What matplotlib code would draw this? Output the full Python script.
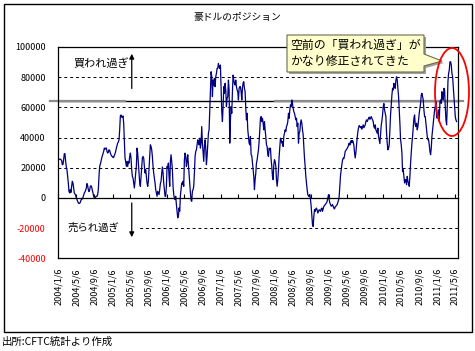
import matplotlib
matplotlib.use('Agg')
import matplotlib.pyplot as plt
import matplotlib.dates as mdates
import matplotlib.transforms as mtransforms
from matplotlib.patches import Rectangle, Ellipse, Polygon
from matplotlib.lines import Line2D
import pandas as pd

plt.rcParams['font.family'] = ['Noto Sans CJK JP', 'DejaVu Sans']

title = '豪ドルのポジション'
source = '出所:CFTC統計より作成'
callout_lines = ['空前の「買われ過ぎ」が', 'かなり修正されてきた']
label_buy = '買われ過ぎ'
label_sell = '売られ過ぎ'

x_labels = ['2004/1/6', '2004/5/6', '2004/9/6', '2005/1/6', '2005/5/6', '2005/9/6',
            '2006/1/6', '2006/5/6', '2006/9/6', '2007/1/6', '2007/5/6', '2007/9/6',
            '2008/1/6', '2008/5/6', '2008/9/6', '2009/1/6', '2009/5/6', '2009/9/6',
            '2010/1/6', '2010/5/6', '2010/9/6', '2011/1/6', '2011/5/6']
y_ticks = [-40000, -20000, 0, 20000, 40000, 60000, 80000, 100000]
ref_level = 64000

start, end = '2004-01-06', '2011-05-17'
# net position (contracts)
positions = [
    25300, 25500, 25700, 25700, 25300, 24900, 22000, 22200, 25300, 29300,
    29300, 24200, 20500, 18700, 14300, 9900, 4400, 3300, 5500, 3700,
    7700, 11000, 9900, 6600, 3300, 2600, 1800, 0, -1100, -2200,
    -3300, -3700, -3500, -2900, -1500, -900, -700, 400, 1800, 3300,
    4000, 5100, 6600, 9500, 8100, 5500, 4200, 5100, 7700, 8100,
    7300, 5100, 3300, 1100, 200, 0, 700, 1100, 1100, 2200,
    5500, 14300, 20900, 22400, 24200, 26400, 27900, 29300, 30800, 33000,
    32300, 33000, 33000, 30800, 29700, 30400, 31900, 31500, 29700, 28600,
    27700, 27500, 26800, 26800, 28200, 29300, 30800, 33000, 34800, 36300,
    37000, 38500, 45100, 54300, 55000, 53500, 53500, 54300, 49500, 38500,
    26400, 24200, 20900, 24200, 20900, 24200, 23100, 27500, 29700, 26400,
    18700, 14300, 13200, 9900, 6600, 11000, 16500, 20900, 33000, 29700,
    23100, 16500, 9900, 7700, 14300, 20900, 26400, 27500, 26400, 20900,
    16500, 18700, 14300, 9900, 7700, 11000, 19800, 27500, 35200, 34100,
    31900, 27500, 20900, 16500, 13200, 9900, 5500, 3300, 1100, 4400,
    3300, 2200, 5500, 9500, 11000, 16500, 20500, 16500, 9900, 5500,
    1100, 1100, 7700, 20900, 19800, 23100, 14300, 7700, 24200, 28600,
    24200, 18700, 7700, 2200, 0, -1100, 1100, -4400, -8800, -13200,
    -12100, -6600, -8800, 1500, 5500, 9900, 8800, 11000, 7700, 25300,
    29700, 27500, 20900, 24200, 28600, 22000, 16500, 9900, 3300, -1500,
    -2200, 4400, 5500, 7700, 16500, 27500, 30800, 31900, 35200, 38500,
    37400, 35200, 39600, 33000, 36300, 47300, 36300, 29700, 24200, 34100,
    38500, 33000, 22000, 27500, 35200, 42900, 45100, 58300, 72600, 83600,
    80300, 67100, 78100, 74800, 79200, 73700, 80300, 82500, 85800, 85800,
    89100, 86900, 85800, 88000, 71500, 57200, 50600, 60500, 73700, 69300,
    75900, 71500, 60500, 66000, 67100, 78100, 71500, 36300, 51700, 60500,
    56100, 70400, 81400, 78100, 75900, 74800, 78100, 73700, 71500, 70400,
    64900, 72600, 73700,
    73700, 70400, 64900, 72600, 76300, 77000, 72600, 70400, 59400, 51700,
    56100, 45100, 40700, 36300, 35200, 40700, 28600, 27900, 23100, 18700,
    14300, 5500, 12100, 16500, 23100, 25300, 28600, 31900, 37400, 45100,
    52800, 53900, 50600, 52800, 49500, 45100, 50600, 45100, 40700, 35200,
    34100, 28600, 27500, 33000, 31900, 33000, 25300, 20900, 14300, 12100,
    22000, 25300, 24200, 20900, 12100, 7700, 12100, 18700, 27500, 34100,
    39600, 38500, 36300, 37400, 34100, 40700, 42900, 45100, 44000, 47300,
    48400, 50600, 56100, 52800, 58300, 61600, 60500, 64900, 62700, 59400,
    57200, 56100, 53900, 51700, 52800, 47300, 49500, 36300, 42900, 44000,
    49500, 51700, 49500, 45100, 41800, 34100, 26400, 20900, 14300, 9900,
    5500, 2200, 1100, 1100, 2200, -1100, -5500, -12200, -17800, -18900,
    -12200, -7800, -8900, -7300, -6700, -8200, -10000, -8900, -7800, -8400,
    -8900, -7300, -6700, -8900, -7300, -5500, -5100, -4400, -3800, -3300,
    -2200, 0, 2200, -1100, -3300, -4400, -5500, -5100, -4400, -5500,
    -6700, -7300, -5900, -5500, -4900, -4400, -2900, -1500, 1000, 8000,
    15000, 18700, 22000, 25000, 26400, 26000, 28000, 30800, 31500, 32000,
    33000, 33500, 35200, 36300, 35000, 37000, 38000, 36500, 38000, 37000,
    35000, 30000, 26500, 30000, 35000, 40000, 43800, 46500, 48000, 47300,
    46500, 47300, 45500, 46900, 48400, 46500, 47500, 48400, 50600, 51700,
    50600, 51700, 52800, 53500, 52100, 52800, 53900, 52800, 51700, 50600,
    47300, 46200, 48400, 45100, 44000, 42900, 46200, 40700, 38500, 36000,
    42000, 48000, 51000, 55000, 60500, 62500, 58300, 56100, 53900, 42900,
    36300, 31900, 33000, 35200, 45100, 55000, 62000, 68000, 72600, 71500,
    75900, 73700, 72600, 78100, 80300, 78100, 72600, 67100, 58300, 49500,
    38500, 35200, 30000, 17400, 18700, 14000, 9900, 12100, 12100, 8800,
    14300, 11000, 9900, 7700, 14300, 23100, 29700, 36300, 40700, 47300,
    52800, 55000, 48400, 47300, 49500, 45100, 47300, 51700, 56100, 59400,
    62700, 68200, 69300, 67100, 64900, 58300, 53900, 53900, 49500, 45100,
    40700, 38500, 38500, 35200, 30800, 28600, 33000, 40700, 45100, 49500,
    53900, 58300, 60500, 63800, 53900, 52800, 56100, 58300, 50600, 63800,
    64900, 62700, 70400, 67100, 64900, 72600, 71500, 60500, 51700, 48400,
    60500, 77000, 82500, 84700, 90200, 90200, 88000, 82500, 80300, 73700,
    67100, 59400, 53900, 51700, 50600,
]

dates = pd.date_range(start, end, periods=len(positions))
tick_dates = pd.to_datetime(x_labels, format='%Y/%m/%d')
tick_nums = mdates.date2num(tick_dates.to_pydatetime())

W, H = 475, 351
fig = plt.figure(figsize=(W / 100, H / 100), dpi=100)


def fx(x):
    return x / W


def fy(y):
    return 1 - y / H


ax = fig.add_axes([fx(58.3), fy(258.3), (457.5 - 58.3) / W, (258.3 - 47) / H])
ax.plot(dates, positions, color='#000080', lw=0.9, zorder=2)

ax.set_xlim(pd.Timestamp(start), pd.Timestamp('2011-05-23'))
ax.set_ylim(-40000, 100000)
ax.set_yticks(y_ticks)
ax.set_yticklabels([str(v) for v in y_ticks], fontsize=6.5)
for lbl, v in zip(ax.get_yticklabels(), y_ticks):
    if v < 0:
        lbl.set_color('red')
ax.tick_params(axis='y', length=0, pad=9)
ax.set_axisbelow(True)
ax.yaxis.grid(True, linestyle=(0, (3, 3)), color='black', lw=0.7)

ax2 = ax.twiny()
ax.set_xticks(tick_nums)
ax.xaxis.set_ticks_position('bottom')
ax.spines['bottom'].set_position(('data', 0))
ax.tick_params(axis='x', direction='in', length=3, width=0.8, labelbottom=False, labeltop=False)
for s in ax.spines.values():
    s.set_linewidth(0.9)

ax2.set_xlim(ax.get_xlim())
ax2.set_xticks(tick_nums)
ax2.set_xticklabels(x_labels, rotation=90, fontsize=6.5)
ax2.xaxis.set_ticks_position('bottom')
ax2.tick_params(axis='x', length=0, pad=7)
for s in ['top', 'left', 'right']:
    ax2.spines[s].set_visible(False)
ax2.spines['bottom'].set_linewidth(0.9)

trans = mtransforms.blended_transform_factory(ax.transAxes, ax.transData)

# reference level line and gray overlays
ax.axhline(ref_level, color='black', lw=1, zorder=1.5)
for x0, x1 in [(-0.021, 0.167), (0.543, 1.015)]:
    ax.add_line(Line2D([x0, x1], [ref_level, ref_level], transform=trans,
                       color='#8c8c8c', lw=1.6, clip_on=False, zorder=1.6))

# over-bought / over-sold markers
ax.text(0.039, 88800, label_buy, transform=trans, fontsize=8, va='center', ha='left')
ax.annotate('', xy=(0.184, 95500), xytext=(0.184, 72500), xycoords=trans, textcoords=trans,
            arrowprops=dict(arrowstyle='-|>', color='black', lw=0.9, mutation_scale=7,
                            shrinkA=0, shrinkB=0))
ax.add_patch(Rectangle((0.002, -23500), 0.198, 7000, transform=trans,
                       fc='white', ec='none', zorder=1))
ax.text(0.0243, -19600, label_sell, transform=trans, fontsize=7.5, va='center', ha='left', zorder=3)
ax.annotate('', xy=(0.184, -26000), xytext=(0.184, -3300), xycoords=trans, textcoords=trans,
            arrowprops=dict(arrowstyle='-|>', color='black', lw=0.9, mutation_scale=7,
                            shrinkA=0, shrinkB=0))

# callout box
box = [(287, 35), (424, 35), (424, 54), (442, 61), (424, 66), (424, 72), (287, 72)]
shadow = Polygon([(fx(x + 2), fy(y + 2)) for x, y in box], closed=True,
                 transform=fig.transFigure, fc='#a0a0a0', ec='none')
fig.add_artist(shadow)
fig.add_artist(Polygon([(fx(x), fy(y)) for x, y in box], closed=True,
                       transform=fig.transFigure, fc='#ffffcc', ec='#6b6b4f', lw=0.8))
fig.text(fx(290), fy(45), callout_lines[0], fontsize=8.6, va='center', ha='left')
fig.text(fx(290), fy(62), callout_lines[1], fontsize=8.6, va='center', ha='left')

fig.add_artist(Ellipse((fx(452), fy(92)), 34 / W, 88 / H, transform=fig.transFigure,
                       fill=False, ec='red', lw=1.3))

fig.text(fx(237), fy(17), title, ha='center', va='center', fontsize=7)
fig.text(fx(2), fy(342), source, ha='left', va='center', fontsize=7.5)
fig.add_artist(Rectangle((fx(4), fy(332)), (472 - 4) / W, (332 - 4) / H,
                         transform=fig.transFigure, fill=False, ec='black', lw=1))

fig.savefig('out.png', dpi=100)
